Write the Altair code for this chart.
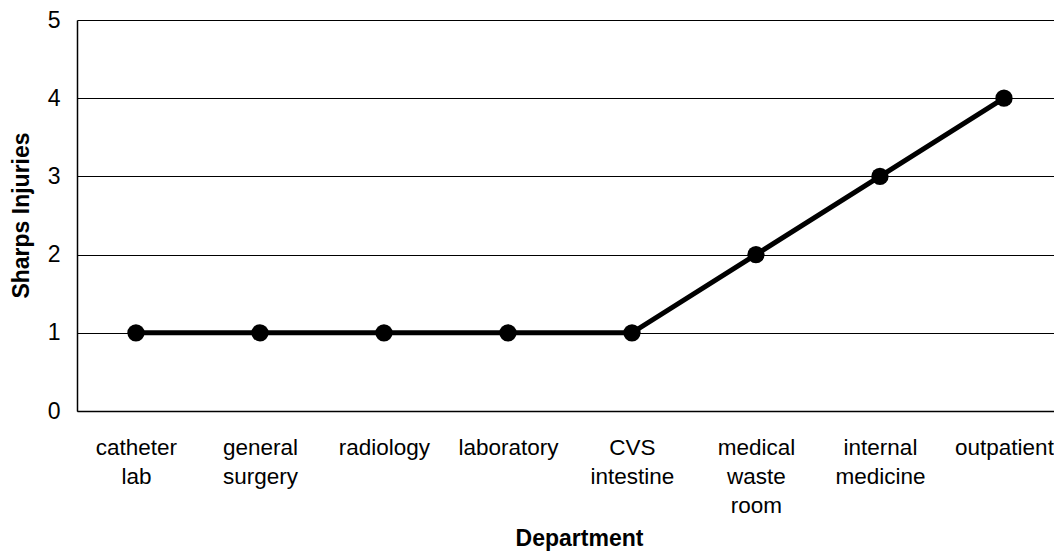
import altair as alt
import pandas as pd

departments = ["catheter lab", "general surgery", "radiology", "laboratory",
               "CVS intestine", "medical waste room", "internal medicine", "outpatient"]
injuries = [1, 1, 1, 1, 1, 2, 3, 4]
y_ticks = [0, 1, 2, 3, 4, 5]

df = pd.DataFrame({"Department": departments, "Sharps Injuries": injuries})

FONT = "Liberation Sans"

x_enc = alt.X(
    "Department:N",
    sort=None,
    scale=alt.Scale(type="point", padding=0.4395, align=0.541),
    axis=alt.Axis(
        title="Department",
        labelExpr="split(datum.label, ' ')",
        labelAngle=0,
        labelFontSize=22.5,
        labelFont=FONT,
        labelColor="#000000",
        labelLineHeight=29,
        labelPadding=25,
        labelBaseline="top",
        ticks=False,
        tickSize=0,
        domainColor="#000000",
        domainWidth=1.5,
        grid=False,
        titleFont=FONT,
        titleFontSize=23,
        titleFontWeight="bold",
        titleColor="#000000",
        titleX=502,
        titleY=127,
        titleBaseline="middle",
        titleAlign="center",
    ),
)

y_enc = alt.Y(
    "Sharps Injuries:Q",
    scale=alt.Scale(domain=[0, 5], nice=False, zero=True),
    axis=alt.Axis(
        title="Sharps Injuries",
        values=y_ticks,
        format="d",
        labelFontSize=23,
        labelFont=FONT,
        labelColor="#000000",
        labelPadding=17,
        ticks=False,
        tickSize=0,
        domainColor="#000000",
        domainWidth=1.5,
        grid=True,
        gridColor="#000000",
        gridWidth=1,
        titleFont=FONT,
        titleFontSize=23,
        titleFontWeight="bold",
        titleColor="#000000",
        titleX=-56,
        titleY=195,
        titleBaseline="middle",
        titleAlign="center",
        titleAngle=270,
    ),
)

base = alt.Chart(df).encode(x=x_enc, y=y_enc)

line = base.mark_line(color="#000000", strokeWidth=5)
points = base.mark_circle(color="#000000", size=300, opacity=1)

chart = (
    alt.layer(line, points)
    .properties(
        width=977,
        height=391,
        autosize=alt.AutoSizeParams(type="none"),
        padding={"left": 69, "top": 12, "right": 0, "bottom": 141},
    )
    .configure_view(stroke=None)
    .configure(background="#ffffff")
)

chart.save("out.html", embed_options={"renderer": "svg", "actions": False})
